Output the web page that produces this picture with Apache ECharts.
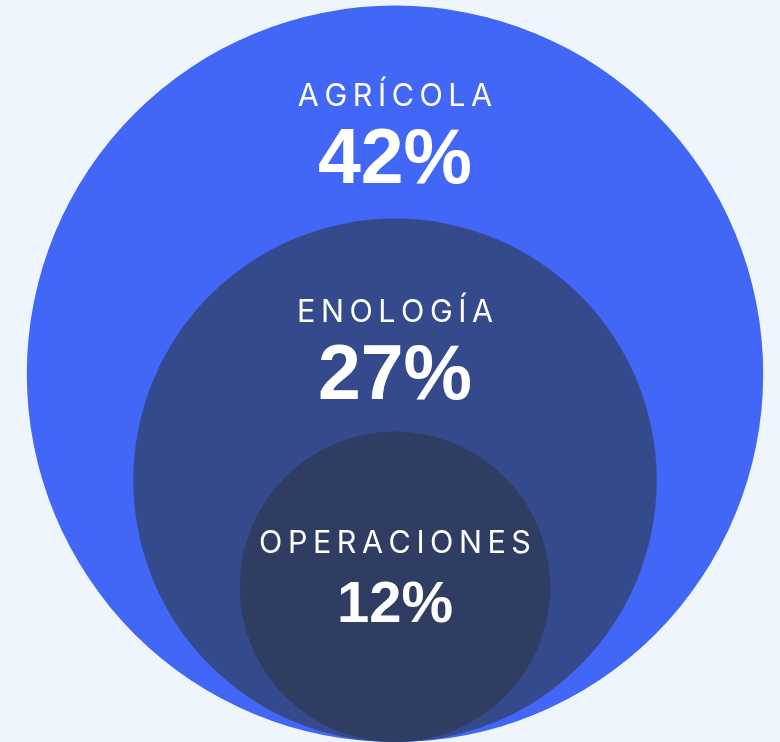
<!DOCTYPE html>
<html>
<head>
<meta charset="utf-8">
<script src="https://cdn.jsdelivr.net/npm/echarts@6/dist/echarts.min.js"></script>
<style>
  html, body { margin: 0; padding: 0; background: #eef5fd; }
  #chart { width: 780px; height: 742px; }
</style>
</head>
<body>
<div id="chart"></div>
<script>
const categories = ['AGRÍCOLA', 'ENOLOGÍA', 'OPERACIONES']
const shares = [42, 27, 12]

const colors = ['#4266f5', '#344a8c', '#2f3d63']
// label block offset from top of each circle, and font sizes
const labelTop = [71, 74, 92]
const valueSize = [77, 77, 58]
const valueLine = [90, 90, 84]

// diameter grows linearly with share
const sizeOf = (v) => 140 + 14.2 * v
const spaced = (s) => s.split('').join('\u2009')

const chart = echarts.init(document.getElementById('chart'), null, { renderer: 'canvas' })

chart.setOption({
  animation: false,
  backgroundColor: '#eef5fd',
  grid: { left: 0, right: 0, top: 0, bottom: 0 },
  xAxis: { type: 'value', min: 0, max: 780, show: false },
  yAxis: { type: 'value', min: 0, max: 742, show: false },
  series: [{
    type: 'scatter',
    silent: true,
    data: shares.map((v, i) => ({
      name: categories[i],
      value: [395, sizeOf(v) / 2],
      symbolSize: sizeOf(v),
      itemStyle: { color: colors[i], opacity: 1 },
      label: {
        show: true,
        position: ['50%', labelTop[i]],
        align: 'center',
        verticalAlign: 'top',
        formatter: `{n|${spaced(categories[i])}}\n{v|${v}%}`,
        rich: {
          n: { fontFamily: 'Inter', fontSize: 30.5, fontWeight: 400, color: '#ffffff', lineHeight: 40, align: 'center' },
          v: { fontFamily: 'Liberation Sans', fontSize: valueSize[i], fontWeight: 700, color: '#ffffff', lineHeight: valueLine[i], align: 'center' },
        },
      },
    })),
  }],
})
</script>
</body>
</html>
